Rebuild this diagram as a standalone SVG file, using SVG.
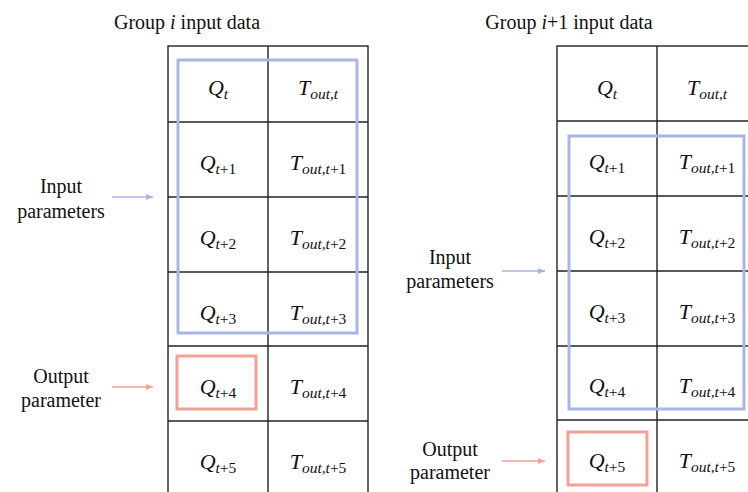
<svg xmlns="http://www.w3.org/2000/svg" width="748" height="492" viewBox="0 0 748 492">
<defs>
<style>
text{font-family:"Liberation Serif","Times New Roman",serif;fill:#111}
.lbl{font-size:20px;text-anchor:middle}
.cell{font-size:22px;text-anchor:middle;font-style:italic}
.sub{font-size:15.5px}
.up{font-style:normal}
.grid{fill:none;stroke:#222;stroke-width:1.4}
.blue{fill:none;stroke:#a9b5e2;stroke-width:3}
.red{fill:none;stroke:#f4a198;stroke-width:3}
.arrB{stroke:#a9b5e2;stroke-width:1.6;fill:none}
.arrR{stroke:#f4a198;stroke-width:1.6;fill:none}
</style>
<marker id="mb" markerWidth="8" markerHeight="8" refX="7" refY="4" orient="auto" markerUnits="userSpaceOnUse">
<path d="M0,1 L7,4 L0,7 Z" fill="#a9b5e2"/>
</marker>
<marker id="mr" markerWidth="8" markerHeight="8" refX="7" refY="4" orient="auto" markerUnits="userSpaceOnUse">
<path d="M0,1 L7,4 L0,7 Z" fill="#f4a198"/>
</marker>
</defs>
<rect width="748" height="492" fill="#fff"/>

<g id="title-left"><text class="lbl" x="187" y="29">Group <tspan font-style="italic">i</tspan> input data</text></g>
<g id="title-right"><text class="lbl" x="569" y="29">Group <tspan font-style="italic">i</tspan>+1 input data</text></g>

<g id="table-left">
<rect class="grid" x="168" y="46" width="200" height="460"/>
<line class="grid" x1="268" y1="46" x2="268" y2="506"/>
<line class="grid" x1="168" y1="122" x2="368" y2="122"/>
<line class="grid" x1="168" y1="197" x2="368" y2="197"/>
<line class="grid" x1="168" y1="272" x2="368" y2="272"/>
<line class="grid" x1="168" y1="346" x2="368" y2="346"/>
<line class="grid" x1="168" y1="421" x2="368" y2="421"/>
<text class="cell" x="218" y="95">Q<tspan class="sub" dy="4">t</tspan></text>
<text class="cell" x="318" y="95">T<tspan class="sub" dy="4">out,t</tspan></text>
<text class="cell" x="218" y="170">Q<tspan class="sub" dy="4">t<tspan class="up">+1</tspan></tspan></text>
<text class="cell" x="318" y="170">T<tspan class="sub" dy="4">out,t<tspan class="up">+1</tspan></tspan></text>
<text class="cell" x="218" y="245">Q<tspan class="sub" dy="4">t<tspan class="up">+2</tspan></tspan></text>
<text class="cell" x="318" y="245">T<tspan class="sub" dy="4">out,t<tspan class="up">+2</tspan></tspan></text>
<text class="cell" x="218" y="320">Q<tspan class="sub" dy="4">t<tspan class="up">+3</tspan></tspan></text>
<text class="cell" x="318" y="320">T<tspan class="sub" dy="4">out,t<tspan class="up">+3</tspan></tspan></text>
<text class="cell" x="218" y="394">Q<tspan class="sub" dy="4">t<tspan class="up">+4</tspan></tspan></text>
<text class="cell" x="318" y="394">T<tspan class="sub" dy="4">out,t<tspan class="up">+4</tspan></tspan></text>
<text class="cell" x="218" y="469">Q<tspan class="sub" dy="4">t<tspan class="up">+5</tspan></tspan></text>
<text class="cell" x="318" y="469">T<tspan class="sub" dy="4">out,t<tspan class="up">+5</tspan></tspan></text>
<rect class="blue" x="178" y="60" width="179" height="273"/>
<rect class="red" x="177" y="356" width="79" height="53"/>
</g>

<g id="table-right">
<rect class="grid" x="557" y="46" width="200" height="460"/>
<line class="grid" x1="657" y1="46" x2="657" y2="506"/>
<line class="grid" x1="557" y1="121" x2="757" y2="121"/>
<line class="grid" x1="557" y1="196" x2="757" y2="196"/>
<line class="grid" x1="557" y1="271" x2="757" y2="271"/>
<line class="grid" x1="557" y1="346" x2="757" y2="346"/>
<line class="grid" x1="557" y1="420" x2="757" y2="420"/>
<text class="cell" x="607" y="95">Q<tspan class="sub" dy="4">t</tspan></text>
<text class="cell" x="707" y="95">T<tspan class="sub" dy="4">out,t</tspan></text>
<text class="cell" x="607" y="169">Q<tspan class="sub" dy="4">t<tspan class="up">+1</tspan></tspan></text>
<text class="cell" x="707" y="169">T<tspan class="sub" dy="4">out,t<tspan class="up">+1</tspan></tspan></text>
<text class="cell" x="607" y="244">Q<tspan class="sub" dy="4">t<tspan class="up">+2</tspan></tspan></text>
<text class="cell" x="707" y="244">T<tspan class="sub" dy="4">out,t<tspan class="up">+2</tspan></tspan></text>
<text class="cell" x="607" y="319">Q<tspan class="sub" dy="4">t<tspan class="up">+3</tspan></tspan></text>
<text class="cell" x="707" y="319">T<tspan class="sub" dy="4">out,t<tspan class="up">+3</tspan></tspan></text>
<text class="cell" x="607" y="393">Q<tspan class="sub" dy="4">t<tspan class="up">+4</tspan></tspan></text>
<text class="cell" x="707" y="393">T<tspan class="sub" dy="4">out,t<tspan class="up">+4</tspan></tspan></text>
<text class="cell" x="607" y="468">Q<tspan class="sub" dy="4">t<tspan class="up">+5</tspan></tspan></text>
<text class="cell" x="707" y="468">T<tspan class="sub" dy="4">out,t<tspan class="up">+5</tspan></tspan></text>
<rect class="blue" x="569" y="136" width="175" height="273"/>
<rect class="red" x="568" y="432" width="79" height="53"/>
</g>

<g id="label-input-left"><text class="lbl" x="61" y="193">Input</text><text class="lbl" x="61" y="218">parameters</text></g>
<g id="label-output-left"><text class="lbl" x="61" y="383">Output</text><text class="lbl" x="61" y="407">parameter</text></g>
<g id="label-input-right"><text class="lbl" x="450" y="264">Input</text><text class="lbl" x="450" y="288">parameters</text></g>
<g id="label-output-right"><text class="lbl" x="450" y="456">Output</text><text class="lbl" x="450" y="479">parameter</text></g>

<g id="connectors">
<line class="arrB" x1="112" y1="197" x2="153" y2="197" marker-end="url(#mb)"/>
<line class="arrR" x1="112" y1="387" x2="153" y2="387" marker-end="url(#mr)"/>
<line class="arrB" x1="502" y1="271" x2="545" y2="271" marker-end="url(#mb)"/>
<line class="arrR" x1="502" y1="461" x2="545" y2="461" marker-end="url(#mr)"/>
</g>
</svg>
